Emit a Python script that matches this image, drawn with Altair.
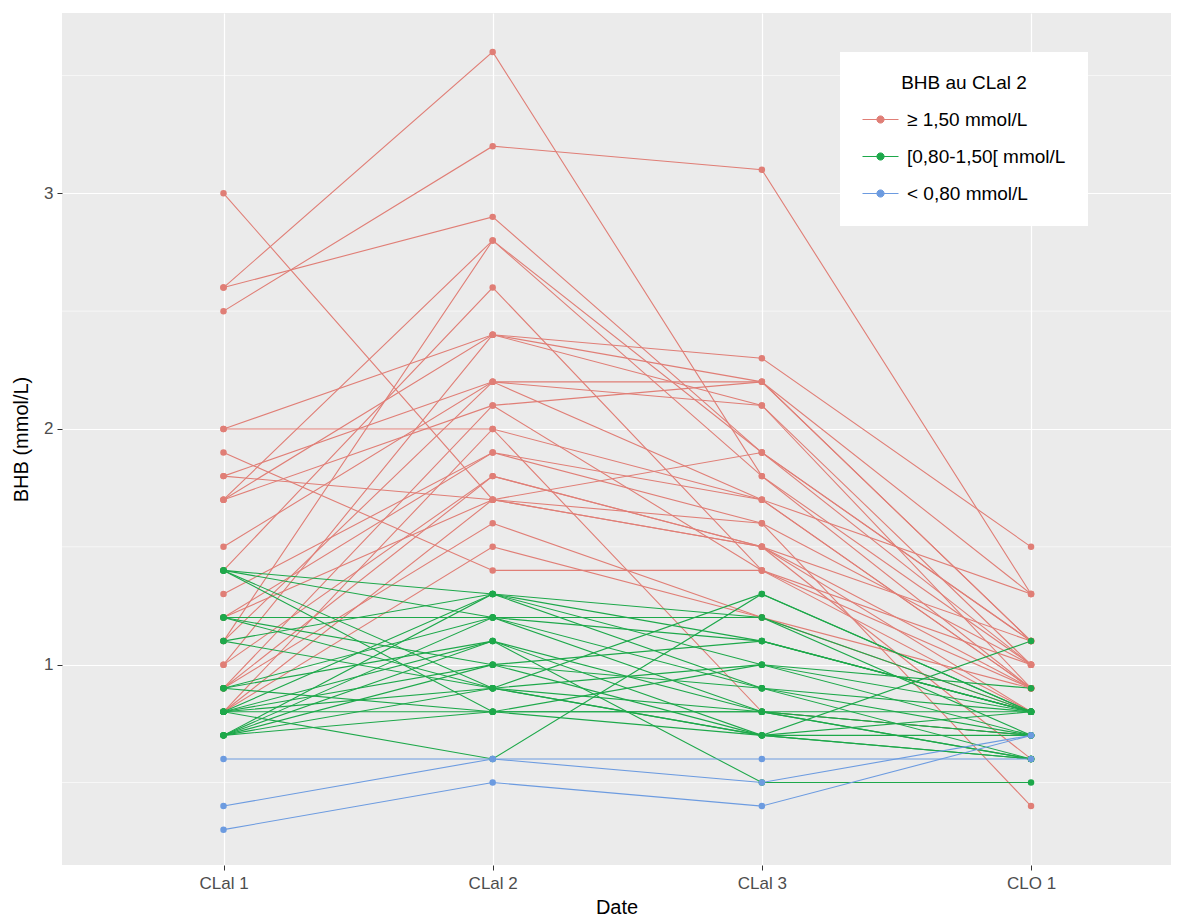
import altair as alt
import pandas as pd

dates = ["CLal 1", "CLal 2", "CLal 3", "CLO 1"]
groups = ["≥ 1,50 mmol/L", "[0,80-1,50[ mmol/L", "< 0,80 mmol/L"]
colors = ["#E07E76", "#1DA84A", "#6C9BE0"]

# group >= 1.50 at CLal 2
red_clal1 = [3.0, 2.6, 2.6, 2.5, 2.0, 2.0, 1.9, 1.8, 1.7, 1.7, 1.7, 1.5, 1.4, 1.3, 1.2, 1.1, 1.0, 0.9, 0.9, 0.8, 0.8, 1.8, 1.2, 1.0, 0.8, 1.1, 0.9]
red_clal2 = [1.7, 3.6, 2.9, 3.2, 2.4, 2.0, 1.4, 2.2, 2.4, 2.8, 2.1, 2.2, 2.6, 1.9, 1.7, 2.2, 1.8, 1.6, 2.1, 1.7, 1.5, 1.7, 1.9, 2.4, 2.0, 2.8, 1.8]
red_clal3 = [1.5, 1.8, 1.9, 3.1, 2.3, 1.7, 1.4, 2.2, 2.2, 1.8, 2.2, 2.1, 1.4, 1.6, 1.9, 1.7, 1.5, 1.2, 1.4, 1.6, 1.2, 1.5, 1.7, 2.1, 0.8, 1.9, 1.5]
red_clo1 = [1.1, 0.9, 1.0, 1.3, 1.5, 0.9, 0.9, 1.3, 1.1, 1.0, 1.1, 0.9, 0.8, 1.0, 1.1, 0.9, 0.6, 0.8, 1.0, 0.4, 0.9, 0.8, 1.3, 1.0, 0.7, 1.1, 0.9]

# group [0.80-1.50[ at CLal 2
green_clal1 = [1.4, 1.4, 1.4, 1.4, 1.2, 1.2, 1.1, 1.1, 0.9, 0.9, 0.8, 0.8, 0.8, 0.8, 0.8, 0.7, 0.7, 0.7, 0.7, 0.7, 0.7, 0.8, 1.2, 0.9]
green_clal2 = [1.3, 0.9, 0.8, 1.2, 1.2, 1.0, 1.3, 0.9, 1.2, 1.1, 1.3, 0.9, 1.0, 1.1, 0.8, 1.3, 1.2, 1.0, 0.9, 0.8, 1.1, 0.6, 0.9, 0.8]
green_clal3 = [1.2, 0.7, 0.8, 0.9, 1.1, 0.7, 1.0, 0.8, 1.2, 0.8, 1.1, 1.3, 0.9, 0.5, 1.0, 0.9, 0.8, 1.1, 0.7, 0.8, 0.7, 1.3, 1.0, 0.7]
green_clo1 = [0.8, 0.6, 0.7, 0.8, 0.8, 0.6, 0.7, 0.8, 0.7, 0.6, 0.8, 0.8, 0.7, 0.5, 0.8, 0.6, 0.7, 0.8, 1.1, 0.6, 0.8, 0.8, 0.9, 0.7]

# group < 0.80 at CLal 2
blue_clal1 = [0.6, 0.4, 0.3]
blue_clal2 = [0.6, 0.6, 0.5]
blue_clal3 = [0.6, 0.5, 0.4]
blue_clo1 = [0.6, 0.7, 0.7]

minor_grid = [0.5, 1.5, 2.5, 3.5]
major_y = [1, 2, 3]

rows = []
sid = 0
for g, series in zip(groups, [
    (red_clal1, red_clal2, red_clal3, red_clo1),
    (green_clal1, green_clal2, green_clal3, green_clo1),
    (blue_clal1, blue_clal2, blue_clal3, blue_clo1),
]):
    for i in range(len(series[0])):
        sid += 1
        for t in range(4):
            rows.append({"subject": f"s{sid:03d}", "grp": g, "t": t + 1, "date": dates[t], "bhb": series[t][i]})
df = pd.DataFrame(rows)

FONT = "Liberation Sans"
label_expr = "[" + ",".join(f"'{d}'" for d in dates) + "][datum.value - 1]"

xscale = alt.Scale(domain=[0.4, 4.52], nice=False, zero=False)
yscale = alt.Scale(domain=[0.15, 3.765], nice=False, zero=False)

x_axis = alt.Axis(values=[1, 2, 3, 4], labelExpr=label_expr, title="Date",
                  grid=True, gridColor="white", gridWidth=1.2,
                  domain=False, tickColor="#333333", tickSize=5,
                  labelPadding=5, labelColor="#4D4D4D", labelFontSize=17,
                  labelFont=FONT, titleFont=FONT, titleFontSize=20,
                  titleFontWeight="normal", titleColor="black", titlePadding=6)
y_axis = alt.Axis(values=major_y, title="BHB (mmol/L)",
                  grid=True, gridColor="white", gridWidth=1.2,
                  domain=False, tickColor="#333333", tickSize=5,
                  labelPadding=4, labelColor="#4D4D4D", labelFontSize=17,
                  labelFont=FONT, titleFont=FONT, titleFontSize=20,
                  titleFontWeight="normal", titleColor="black", titlePadding=12)

x_enc = alt.X("t:Q", scale=xscale, axis=x_axis, title="Date")
y_enc = alt.Y("bhb:Q", scale=yscale, axis=y_axis, title="BHB (mmol/L)")

cscale = alt.Scale(domain=groups, range=colors)

minor = alt.Chart(pd.DataFrame({"v": minor_grid})).mark_rule(color="white", strokeWidth=0.6).encode(
    y=alt.Y("v:Q", scale=yscale, axis=y_axis, title="BHB (mmol/L)")
)

lines = alt.Chart(df).mark_line(strokeWidth=1.1).encode(
    x=x_enc, y=y_enc,
    stroke=alt.Stroke("grp:N", scale=cscale, sort=groups, title="BHB au CLal 2"),
    detail="subject:N",
)

points = alt.Chart(df).mark_circle(size=42, opacity=1).encode(
    x=x_enc, y=y_enc,
    fill=alt.Fill("grp:N", scale=cscale, sort=groups, title="BHB au CLal 2"),
)

chart = alt.layer(minor, lines, points).properties(
    width=1109, height=852,
    background="white",
    autosize=alt.AutoSizeParams(type="none"),
    padding={"left": 54, "top": 5, "right": 0, "bottom": 51},
).configure_view(fill="#EBEBEB", strokeWidth=0).configure_legend(
    orient="none", legendX=778, legendY=39,
    fillColor="white", padding=22,
    symbolType="M-1,0L1,0M-0.2,0A0.2,0.2,0,1,0,0.2,0A0.2,0.2,0,1,0,-0.2,0Z",
    symbolSize=1296, symbolStrokeWidth=1, symbolOpacity=1,
    labelFont=FONT, labelFontSize=19, labelColor="black", labelOffset=8,
    titleFont=FONT, titleFontSize=19, titleFontWeight="normal", titleColor="black",
    titleAnchor="middle", titlePadding=8, rowPadding=8,
)

chart.save("out.html", embed_options={"renderer": "svg", "actions": False})
